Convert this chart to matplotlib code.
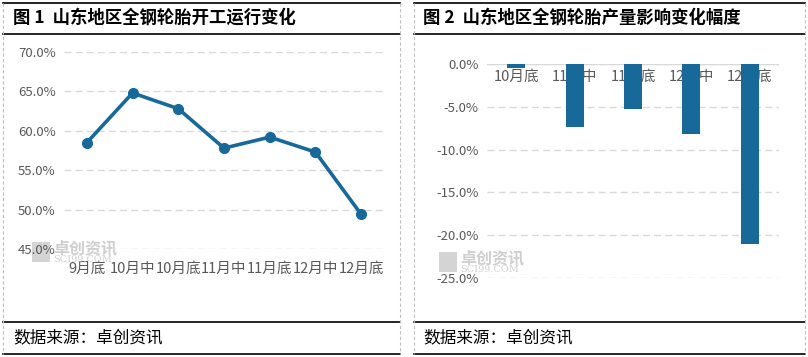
"""Two-panel chart: Shandong all-steel tire operating rate and output change."""

import matplotlib.pyplot as plt
from matplotlib.lines import Line2D
from matplotlib.patches import Rectangle
import numpy as np

plt.rcParams["font.family"] = ["Noto Sans CJK SC", "DejaVu Sans"]

W, H = 808, 357

# left panel data
rate_labels = ["9月底", "10月中", "10月底", "11月中", "11月底", "12月中", "12月底"]
rate_values = [58.5, 64.8, 62.8, 57.8, 59.2, 57.3, 49.4]

# right panel data
change_labels = ["10月底", "11月中", "11月底", "12月中", "12月底"]
change_values = [-0.5, -7.4, -5.2, -8.2, -21.0]

BLUE = "#17699a"
GRID = "#d9d9d9"
TICK = "#595959"


def px_axes(fig, x0, y0, x1, y1):
    """Axes from pixel box (top-left origin)."""
    return fig.add_axes([x0 / W, 1 - y1 / H, (x1 - x0) / W, (y1 - y0) / H])


def hline(fig, x0, x1, y, **kw):
    fig.add_artist(Line2D([x0 / W, x1 / W], [1 - y / H, 1 - y / H], transform=fig.transFigure, **kw))


def vline(fig, x, y0, y1, **kw):
    fig.add_artist(Line2D([x / W, x / W], [1 - y0 / H, 1 - y1 / H], transform=fig.transFigure, **kw))


def watermark(fig, x, y):
    fig.add_artist(Rectangle((x / W, 1 - (y + 20) / H), 18 / W, 20 / H, transform=fig.transFigure,
                             color="#d4d4d4", lw=0, zorder=0))
    fig.text((x + 21) / W, 1 - (y + 6) / H, "卓创资讯", fontsize=11.5, color="#cfcfcf",
             va="center", ha="left", fontweight="bold", zorder=0)
    fig.text((x + 21) / W, 1 - (y + 18) / H, "SCI99.COM", fontsize=7, color="#d0d0d0",
             va="center", ha="left", family="DejaVu Serif", zorder=0)


fig = plt.figure(figsize=(W / 100, H / 100), dpi=100)

# frames, title bands and footers
for (x0, x1) in [(3, 400), (414, 805)]:
    hline(fig, x0, x1, 3, color="black", lw=1.2)
    hline(fig, x0, x1, 34, color="black", lw=1.2)
    hline(fig, x0, x1, 322, color="black", lw=1.2)
    hline(fig, x0, x1, 354, color="black", lw=1.2)
    vline(fig, x0, 3, 354, color="#bfbfbf", lw=0.8, ls=(0, (3, 2)))
    vline(fig, x1, 3, 354, color="#bfbfbf", lw=0.8, ls=(0, (3, 2)))

fig.text(13 / W, 1 - 18 / H, "图 1  山东地区全钢轮胎开工运行变化", fontsize=12.5,
         fontweight="bold", va="center", ha="left")
fig.text(423 / W, 1 - 18 / H, "图 2  山东地区全钢轮胎产量影响变化幅度", fontsize=12.5,
         fontweight="bold", va="center", ha="left")
fig.text(13 / W, 1 - 338 / H, "数据来源：卓创资讯", fontsize=12, va="center", ha="left")
fig.text(423 / W, 1 - 338 / H, "数据来源：卓创资讯", fontsize=12, va="center", ha="left")

watermark(fig, 32, 242)
watermark(fig, 439, 252)

# left: line chart
ax1 = px_axes(fig, 64, 52, 384, 249)
x = np.arange(len(rate_labels))
ax1.plot(x, rate_values, color=BLUE, lw=2.6, marker="o", markersize=7, zorder=3)
ax1.set_xlim(-0.5, len(rate_labels) - 0.5)
ax1.set_ylim(45, 70)
ax1.set_yticks(np.arange(45, 71, 5))
ax1.set_yticklabels([f"{v:.1f}%" for v in np.arange(45, 71, 5)])
ax1.set_xticks(x)
ax1.set_xticklabels(rate_labels, fontsize=10.5)
ax1.tick_params(axis="x", pad=9)
ax1.yaxis.grid(True, color=GRID, ls=(0, (5, 3)), lw=1)
ax1.set_axisbelow(True)

# right: bar chart
ax2 = px_axes(fig, 487, 64, 779, 278)
x2 = np.arange(len(change_labels))
ax2.bar(x2, change_values, width=0.31, color=BLUE, zorder=3)
ax2.set_xlim(-0.5, len(change_labels) - 0.5)
ax2.set_ylim(-25, 0)
ax2.set_yticks(np.arange(-25, 1, 5))
ax2.set_yticklabels([f"{v:.1f}%" for v in np.arange(-25, 1, 5)])
ax2.set_xticks([])
ax2.yaxis.grid(True, color=GRID, ls=(0, (5, 3)), lw=1)
ax2.set_axisbelow(True)
for i, lab in enumerate(change_labels):
    ax2.text(i, -0.7, lab, ha="center", va="top", fontsize=10.5, color=TICK, zorder=2)
ax2.axhline(0, color=GRID, lw=1, zorder=1)

for ax in (ax1, ax2):
    for s in ax.spines.values():
        s.set_visible(False)
    ax.tick_params(length=0, labelcolor=TICK)
    ax.tick_params(axis="y", pad=6, labelsize=9.5)
    ax.patch.set_alpha(0)

fig.savefig("out.png", dpi=100)
